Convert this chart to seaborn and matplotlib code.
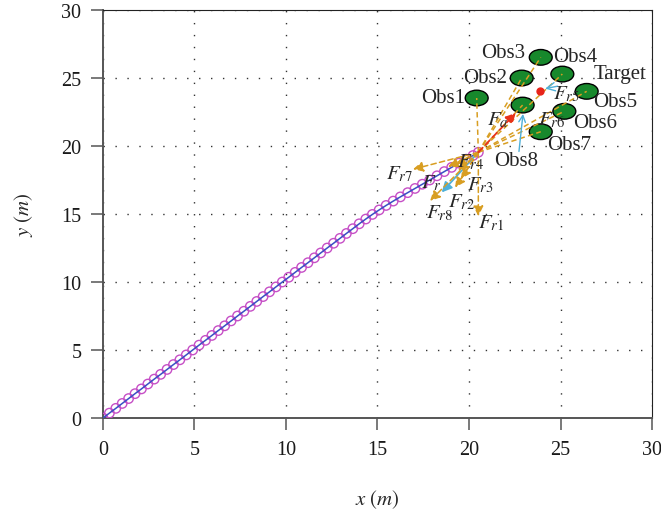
import matplotlib
matplotlib.use("Agg")
import matplotlib.pyplot as plt
import seaborn as sns
import numpy as np
import pandas as pd
from matplotlib.patches import Ellipse

# ---------------- data ----------------
path_x = [0.00, 0.35, 0.70, 1.05, 1.40, 1.75, 2.10, 2.45, 2.80, 3.15, 3.50, 3.85, 4.20, 4.55,
          4.90, 5.25, 5.60, 5.95, 6.30, 6.65, 7.00, 7.35, 7.70, 8.05, 8.40, 8.75, 9.10, 9.45,
          9.80, 10.15, 10.50, 10.85, 11.20, 11.55, 11.90, 12.25, 12.60, 12.95, 13.30, 13.65,
          14.00, 14.36, 14.72, 15.09, 15.47, 15.86, 16.25, 16.65, 17.05, 17.45, 17.85, 18.25,
          18.65, 19.05, 19.45, 19.85, 20.22, 20.51]
path_y = [0.00, 0.36, 0.71, 1.07, 1.43, 1.79, 2.14, 2.50, 2.86, 3.21, 3.57, 3.93, 4.28, 4.64,
          5.00, 5.36, 5.71, 6.07, 6.43, 6.78, 7.14, 7.50, 7.85, 8.21, 8.57, 8.93, 9.28, 9.64,
          10.00, 10.35, 10.71, 11.07, 11.42, 11.78, 12.14, 12.50, 12.85, 13.21, 13.57, 13.92,
          14.28, 14.63, 14.97, 15.30, 15.63, 15.95, 16.26, 16.57, 16.88, 17.19, 17.50, 17.81,
          18.12, 18.43, 18.74, 19.03, 19.30, 19.54]

obs_names = ["Obs1", "Obs2", "Obs3", "Obs4", "Obs5", "Obs6", "Obs7", "Obs8"]
obs_x = [20.42, 22.88, 23.92, 25.10, 26.43, 25.21, 23.92, 22.93]
obs_y = [23.53, 25.00, 26.52, 25.29, 24.02, 22.55, 21.05, 23.01]
obs_w = 1.25
obs_h = 1.15

target_x = 23.86
target_y = 24.07

rep_names = [r"$F_{r1}$", r"$F_{r2}$", r"$F_{r3}$", r"$F_{r4}$",
             r"$F_{r5}$", r"$F_{r6}$", r"$F_{r7}$", r"$F_{r8}$"]
rep_dx = [0.00, -1.27, -0.95, -1.10, -1.22, -1.66, -3.57, -2.64]
rep_dy = [-4.70, -2.60, -1.97, -1.38, -0.93, -1.08, -1.25, -3.58]
att_dx, att_dy = 2.05, 2.90
res_dx, res_dy = -2.00, -2.95

ticks = [0, 5, 10, 15, 20, 25, 30]

# ---------------- style ----------------
sns.set_theme(style="ticks")
plt.rcParams["font.family"] = ["Liberation Serif", "DejaVu Serif"]
plt.rcParams["mathtext.fontset"] = "stix"

ORANGE = "#D89E22"
CYAN = "#4FB0D8"
GREEN = "#17882C"

fig = plt.figure(figsize=(6.61, 5.10), dpi=100)
ax = fig.add_axes([0.1558, 0.1784, 0.8306, 0.80])

# path
df = pd.DataFrame({"x": path_x, "y": path_y})
sns.scatterplot(data=df, x="x", y="y", ax=ax, marker="o", s=46,
                facecolor="none", edgecolor="#C64FC6", linewidth=1.0, zorder=3)
sns.lineplot(data=df, x="x", y="y", ax=ax, sort=False, color="#3A4FC4",
             linewidth=1.1, zorder=4)

rx, ry = path_x[-1], path_y[-1]

# obstacles
for ox, oy in zip(obs_x, obs_y):
    ax.add_patch(Ellipse((ox, oy), obs_w, obs_h, facecolor=GREEN,
                         edgecolor="black", linewidth=1.0, zorder=5))
# dashed lines robot -> obstacles
for ox, oy in zip(obs_x, obs_y):
    ax.plot([rx, ox], [ry, oy], color=ORANGE, lw=1.1, ls=(0, (3.5, 2.2)), zorder=6)

ax.plot([target_x], [target_y], "o", color="#E8231A", ms=5, zorder=7)

# resultant force (cyan)
ax.annotate("", xy=(rx + res_dx, ry + res_dy), xytext=(rx, ry),
            arrowprops=dict(arrowstyle="-|>,head_length=0.6,head_width=0.3",
                            color=CYAN, lw=1.3, mutation_scale=10,
                            shrinkA=0, shrinkB=0), zorder=6)
# repulsive forces
for dx, dy in zip(rep_dx, rep_dy):
    ax.annotate("", xy=(rx + dx, ry + dy), xytext=(rx, ry),
                arrowprops=dict(arrowstyle="-|>,head_length=0.6,head_width=0.3",
                                color=ORANGE, lw=1.1, ls=(0, (3.5, 2.2)),
                                mutation_scale=10, shrinkA=0, shrinkB=0), zorder=7)
# attractive force
ax.annotate("", xy=(rx + att_dx, ry + att_dy), xytext=(rx, ry),
            arrowprops=dict(arrowstyle="-|>,head_length=0.6,head_width=0.3",
                            color="#E8321A", lw=1.3, ls=(0, (3.5, 2.2)),
                            mutation_scale=10, shrinkA=0, shrinkB=0), zorder=7)

# labels of obstacles
fs = 15
obs_lab_pos = [(18.58, 23.6), (20.87, 25.07), (21.86, 26.9), (25.79, 26.6),
               (27.98, 23.3), (26.9, 21.7), (25.5, 20.1), (22.57, 18.9)]
for name, (lx, ly) in zip(obs_names, obs_lab_pos):
    ax.text(lx, ly, name, fontsize=fs, ha="center", va="center", zorder=8)

ax.annotate("Target", xy=(target_x + 0.3, target_y + 0.15), xytext=(28.25, 25.3),
            fontsize=fs, ha="center", va="center",
            arrowprops=dict(arrowstyle="->", color=CYAN, lw=1.0, shrinkA=24, shrinkB=0),
            zorder=8)
ax.annotate("", xy=(obs_x[7] + 0.02, obs_y[7] - 0.65), xytext=(22.73, 19.6),
            arrowprops=dict(arrowstyle="->", color=CYAN, lw=1.0, shrinkA=0, shrinkB=0),
            zorder=8)

# force labels
rep_lab_pos = [(21.2, 14.4), (19.6, 15.95), (20.6, 17.2), (20.11, 18.9),
               (25.3, 23.9), (24.5, 21.99), (16.23, 18.01), (18.4, 15.15)]
for name, (lx, ly) in zip(rep_names, rep_lab_pos):
    ax.text(lx, ly, name, fontsize=15, ha="center", va="center", zorder=8)
ax.text(21.56, 21.99, r"$F_{a}$", fontsize=15, ha="center", va="center", zorder=8)
ax.text(17.95, 17.3, r"$F_{r}$", fontsize=15, ha="center", va="center", zorder=8)

# axes
ax.set_xlim(0, 30)
ax.set_ylim(0, 30)
ax.set_xticks(ticks)
ax.set_yticks(ticks)
ax.set_xlabel(r"$x\ (m)$", fontsize=15, labelpad=21)
ax.set_ylabel(r"$y\ (m)$", fontsize=15, labelpad=19)
ax.tick_params(axis="both", direction="out", length=8.5, width=1.1, color="#555555",
               labelsize=14.5, pad=7, labelcolor="#1a1a1a")
ax.grid(True, color="#333333", lw=1.0, ls=(0, (1, 7.6)))
for s in ["left", "bottom"]:
    ax.spines[s].set_color("#555555")
    ax.spines[s].set_linewidth(1.4)
for s in ["top", "right"]:
    ax.spines[s].set_color("#222222")
    ax.spines[s].set_linewidth(0.8)
ax.set_facecolor("white")

fig.savefig("out.png", dpi=100)
